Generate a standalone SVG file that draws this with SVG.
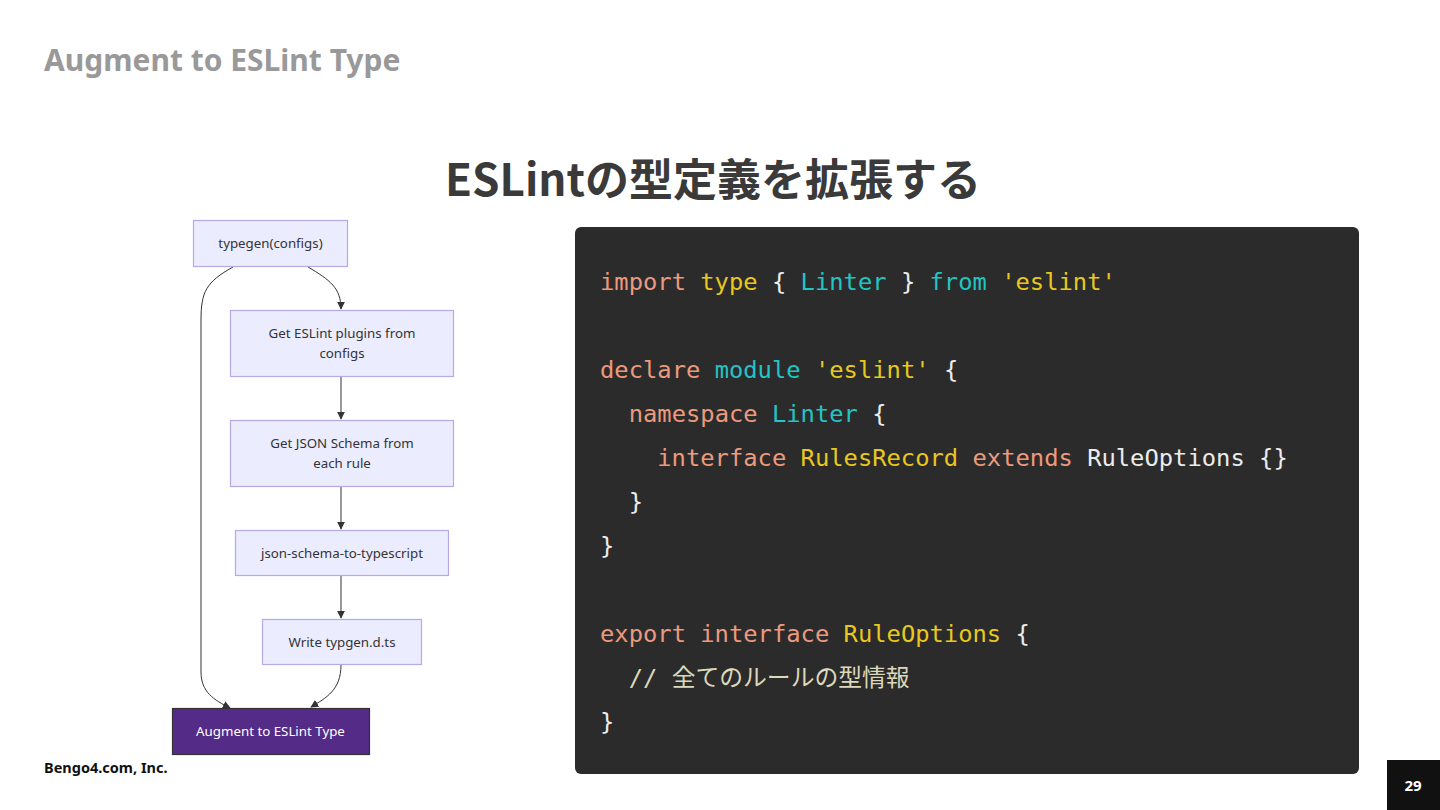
<svg xmlns="http://www.w3.org/2000/svg" width="1440" height="810" viewBox="0 0 1440 810">
<defs>
<style>
.title{font-family:"Noto Sans",Lato,sans-serif;font-weight:700;font-size:30px;fill:#999}
.head{font-family:"Noto Sans CJK JP",sans-serif;font-weight:700;font-size:44px;fill:#3a3a3a}
.node rect{fill:#ECECFF;stroke:#b7a8e6;stroke-width:1.2}
.node text{font-family:"Noto Sans","Open Sans",sans-serif;font-size:13.3px;fill:#333;text-anchor:middle}
.dark rect{fill:#542b86;stroke:#333;stroke-width:1.2}
.dark text{fill:#fff}
.edge{fill:none;stroke:#333;stroke-width:1}
.code{font-family:"DejaVu Sans Mono","Liberation Mono","Noto Sans CJK JP",monospace;font-size:23.8px;white-space:pre}
.k{fill:#ec9a7e}.y{fill:#e8c81e}.c{fill:#22c4c4}.w{fill:#ececec}.cm{fill:#dcd8bc}
.foot{font-family:"Noto Sans",Lato,sans-serif;font-weight:700;font-size:14.5px;fill:#111}
</style>
<marker id="arr" viewBox="0 0 10 10" refX="9" refY="5" markerWidth="8" markerHeight="8" markerUnits="userSpaceOnUse" orient="auto">
<path d="M0,0 L10,5 L0,10 z" fill="#333"/>
</marker>
</defs>
<rect width="1440" height="810" fill="#fff"/>
<text class="title" x="44" y="71">Augment to ESLint Type</text>
<text class="head" x="713" y="196" text-anchor="middle">ESLintの型定義を拡張する</text>

<g id="connectors">
<path class="edge" d="M233,267 C206,282 201,292 201,320 L201,672 C201,692 214,700 230,708" marker-end="url(#arr)"/>
<path class="edge" d="M308,267 C330,280 341,288 341,309" marker-end="url(#arr)"/>
<path class="edge" d="M341,377 L341,419" marker-end="url(#arr)"/>
<path class="edge" d="M341,487 L341,529" marker-end="url(#arr)"/>
<path class="edge" d="M341,576 L341,618" marker-end="url(#arr)"/>
<path class="edge" d="M341,665 C341,690 326,698 311,707" marker-end="url(#arr)"/>
</g>

<g id="n1" class="node"><rect x="193.5" y="220.5" width="154" height="46"/><text x="270.5" y="248">typegen(configs)</text></g>
<g id="n2" class="node"><rect x="230.5" y="310.5" width="223" height="66"/><text x="342" y="338">Get ESLint plugins from</text><text x="342" y="358">configs</text></g>
<g id="n3" class="node"><rect x="230.5" y="420.5" width="223" height="66"/><text x="342" y="448">Get JSON Schema from</text><text x="342" y="468">each rule</text></g>
<g id="n4" class="node"><rect x="235.5" y="530.5" width="213" height="45"/><text x="342" y="558">json-schema-to-typescript</text></g>
<g id="n5" class="node"><rect x="262.5" y="619.5" width="159" height="45"/><text x="342" y="647">Write typgen.d.ts</text></g>
<g id="n6" class="node dark"><rect x="172.5" y="708.5" width="197" height="46"/><text x="270.5" y="736">Augment to ESLint Type</text></g>

<g id="code">
<rect x="575" y="227" width="784" height="547" rx="6" fill="#2b2b2b"/>
<text class="code" x="600" y="290"><tspan class="k">import</tspan> <tspan class="y">type</tspan> <tspan class="w">{</tspan> <tspan class="c">Linter</tspan> <tspan class="w">}</tspan> <tspan class="c">from</tspan> <tspan class="y">'eslint'</tspan></text>
<text class="code" x="600" y="378"><tspan class="k">declare</tspan> <tspan class="c">module</tspan> <tspan class="y">'eslint'</tspan> <tspan class="w">{</tspan></text>
<text class="code" x="628.7" y="422"><tspan class="k">namespace</tspan> <tspan class="c">Linter</tspan> <tspan class="w">{</tspan></text>
<text class="code" x="657.3" y="466"><tspan class="k">interface</tspan> <tspan class="y">RulesRecord</tspan> <tspan class="k">extends</tspan> <tspan class="w">RuleOptions {}</tspan></text>
<text class="code w" x="628.7" y="510">}</text>
<text class="code w" x="600" y="554">}</text>
<text class="code" x="600" y="642"><tspan class="k">export</tspan> <tspan class="k">interface</tspan> <tspan class="y">RuleOptions</tspan> <tspan class="w">{</tspan></text>
<text class="code cm" x="628.7" y="686">// 全てのルールの型情報</text>
<text class="code w" x="600" y="730">}</text>
</g>

<text class="foot" x="44" y="773">Bengo4.com, Inc.</text>
<rect x="1387" y="760" width="53" height="50" fill="#111"/>
<text x="1413" y="791" text-anchor="middle" style="font-family:'Noto Sans',Lato,sans-serif;font-size:15px;font-weight:700;fill:#fff">29</text>
</svg>
